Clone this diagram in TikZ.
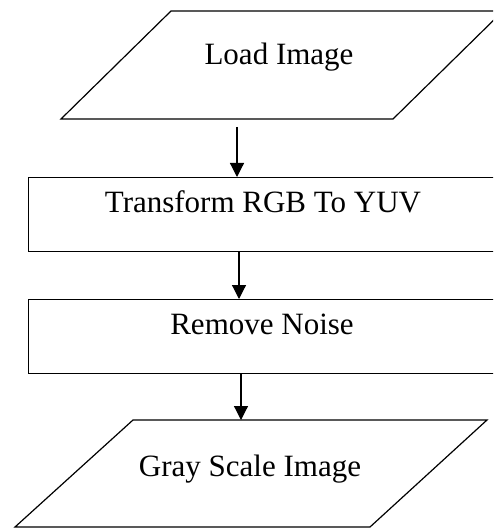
\documentclass[tikz,border=0pt]{standalone}
\usepackage{fontspec}
\setmainfont{Liberation Serif}
\usetikzlibrary{arrows.meta}
\begin{document}
\begin{tikzpicture}[x=1pt,y=-1pt,line width=1.2pt,
  lbl/.style={anchor=base,inner sep=0pt,font=\fontsize{31}{37}\selectfont},
  boxnode/.style={draw,anchor=north west,minimum width=480pt,minimum height=74pt,inner sep=0pt},
  arr/.style={-{Triangle[length=14pt,width=14pt]}}]
\useasboundingbox (0,0) rectangle (493,529);
\clip (0,0) rectangle (493,529);
% top parallelogram
\draw (61,119) -- (171,11) -- (503,11) -- (393,119) -- cycle;
\node[lbl] (load) at (279,65) {Load Image};
\coordinate (a1) at (237,127);
% rectangles
\node[boxnode] (r1) at (28,177) {};
\node[lbl] (t1) at (263,212) {Transform RGB To YUV};
\node[boxnode] (r2) at (28,299) {};
\node[lbl] (t2) at (262,334) {Remove Noise};
% bottom parallelogram
\draw (15,527) -- (133,420) -- (487,420) -- (370,527) -- cycle;
\coordinate (p2top) at (241,420);
\node[lbl] (gray) at (250,476) {Gray Scale Image};
% arrows
\coordinate (a2) at (239,251);
\coordinate (a3) at (241,373);
\draw[arr] (a1) -- (r1.north -| a1);
\draw[arr] (a2) -- (r2.north -| a2);
\draw[arr] (a3) -- (p2top);
\end{tikzpicture}
\end{document}
